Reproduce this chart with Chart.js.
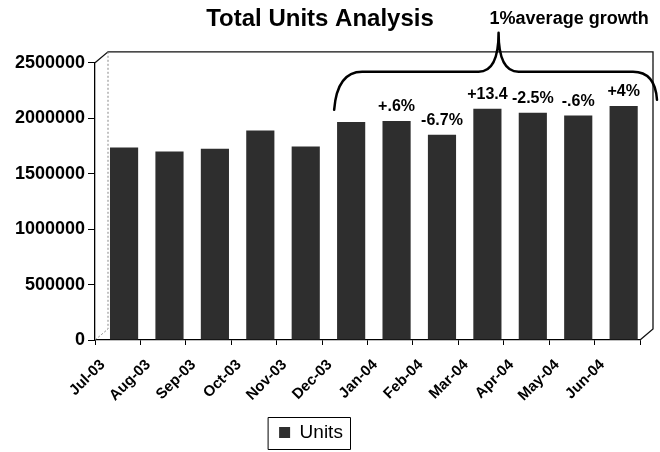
<!DOCTYPE html>
<html><head><meta charset="utf-8">
<script src="https://cdn.jsdelivr.net/npm/chart.js@4/dist/chart.umd.min.js"></script>
<style>html,body{margin:0;padding:0;background:#fff;} canvas{display:block;}</style>
</head><body>
<canvas id="c" width="660" height="452"></canvas>
<script>
const categories = ['Jul-03','Aug-03','Sep-03','Oct-03','Nov-03','Dec-03','Jan-04','Feb-04','Mar-04','Apr-04','May-04','Jun-04'];
const units = [1735000,1700000,1725000,1890000,1745000,1965000,1975000,1850000,2085000,2050000,2025000,2110000];
const growthLabels = ['','','','','','','+.6%','-6.7%','+13.4','-2.5%','-.6%','+4%'];
const yTicks = [0,500000,1000000,1500000,2000000,2500000];
const seriesName = 'Units';
const chartTitle = 'Total Units Analysis';
const braceNote = '1%average growth';
const braceFrom = 5, braceTo = 11;

const FONT = "'Liberation Sans', Arial, sans-serif";
Chart.defaults.font.family = FONT;
Chart.defaults.color = '#000';

const DX = 13, DY = -11;

const framePlugin = {
  id: 'frame3d',
  afterLayout(chart) {
    chart.legend.left -= 9; chart.legend.right -= 9;
  },
  beforeDatasetsDraw(chart) {
    const ctx = chart.ctx, a = chart.chartArea;
    ctx.save();
    ctx.strokeStyle = '#111'; ctx.lineWidth = 1.3;
    ctx.beginPath();
    ctx.moveTo(a.left, a.top);
    ctx.lineTo(a.left + DX, a.top + DY);
    ctx.lineTo(a.right + DX, a.top + DY);
    ctx.lineTo(a.right + DX, a.bottom + DY);
    ctx.lineTo(a.right, a.bottom);
    ctx.stroke();
    ctx.setLineDash([2, 2]); ctx.strokeStyle = '#888'; ctx.lineWidth = 1;
    ctx.beginPath();
    ctx.moveTo(a.left + DX, a.top + DY);
    ctx.lineTo(a.left + DX, a.bottom + DY);
    ctx.lineTo(a.left, a.bottom);
    ctx.stroke();
    ctx.restore();
  },
  afterDraw(chart) {
    const ctx = chart.ctx, a = chart.chartArea;
    const meta = chart.getDatasetMeta(0);
    ctx.save();
    ctx.fillStyle = '#000';
    ctx.font = 'bold 16px ' + FONT;
    ctx.textAlign = 'center'; ctx.textBaseline = 'middle';
    growthLabels.forEach((t, i) => {
      if (!t) return;
      const el = meta.data[i];
      ctx.fillText(t, el.x, el.y - 14);
    });
    const xL = meta.data[braceFrom].x - 17;
    const xR = a.right + 17;
    const yH = a.top + 9;
    const cx = (xL + xR) / 2 + 3;
    const cy = a.top - 30;
    ctx.strokeStyle = '#000'; ctx.lineWidth = 2.5; ctx.lineCap = 'round'; ctx.lineJoin = 'round';
    ctx.beginPath();
    ctx.moveTo(xL, yH + 38);
    ctx.quadraticCurveTo(xL + 3, yH, xL + 28, yH);
    ctx.lineTo(cx - 20, yH);
    ctx.quadraticCurveTo(cx, yH, cx, cy);
    ctx.quadraticCurveTo(cx, yH, cx + 20, yH);
    ctx.lineTo(xR - 24, yH);
    ctx.quadraticCurveTo(xR - 2, yH, xR, yH + 28);
    ctx.stroke();
    ctx.font = 'bold 18px ' + FONT;
    ctx.textAlign = 'left';
    ctx.fillText(braceNote, cx - 9, 19);
    const hb = chart.legend.legendHitBoxes[0];
    if (hb) {
      ctx.lineWidth = 1; ctx.strokeStyle = '#000';
      ctx.strokeRect(Math.round(hb.left - 11) + 0.5, Math.round(hb.top - 6) + 0.5,
                     Math.round(hb.width + 18), Math.round(hb.height + 13));
    }
    ctx.restore();
  }
};

new Chart(document.getElementById('c'), {
  type: 'bar',
  data: {
    labels: categories,
    datasets: [{
      label: seriesName,
      data: units.map((v, i) => ({x: i, y: v})),
      xAxisID: 'xb',
      backgroundColor: '#2e2e2e',
      borderColor: '#111',
      borderWidth: 0,
      categoryPercentage: 1,
      barPercentage: 0.62
    }]
  },
  options: {
    responsive: false,
    animation: false,
    devicePixelRatio: 1,
    layout: { padding: { left: 0, right: 20, top: 0, bottom: 0 } },
    plugins: {
      title: {
        display: true, text: chartTitle, color: '#000',
        font: { size: 24, weight: 'bold' },
        padding: { top: 5, bottom: 29 }
      },
      legend: {
        position: 'bottom',
        labels: {
          boxWidth: 11, boxHeight: 11, padding: 9, color: '#000',
          font: { size: 19 }
        }
      },
      tooltip: { enabled: false }
    },
    scales: {
      x: {
        type: 'category', position: 'bottom', offset: true,
        grid: { offset: true, drawOnChartArea: false, tickLength: 5, color: '#000' },
        border: { color: '#000', width: 1.3 },
        ticks: { autoSkip: false, minRotation: 45, maxRotation: 45, labelOffset: -15, padding: 11,
                 font: { size: 15, weight: 'bold' }, color: '#000' },
        afterFit: s => { s.height = 74; }
      },
      xb: {
        type: 'linear', axis: 'x', position: 'bottom', display: false,
        offset: false, grid: { offset: false },
        min: -0.64, max: 11.36
      },
      y: {
        type: 'linear', min: 0, max: 2500000,
        grid: { drawOnChartArea: false, tickLength: 7, color: '#000' },
        border: { color: '#000', width: 1.3 },
        ticks: { padding: 3, font: { size: 18, weight: 'bold' }, color: '#000',
                 callback: v => String(v) },
        afterBuildTicks: s => { s.ticks = yTicks.map(v => ({ value: v })); },
        afterFit: s => { s.width = 95; }
      }
    }
  },
  plugins: [framePlugin]
});
</script>
</body></html>
